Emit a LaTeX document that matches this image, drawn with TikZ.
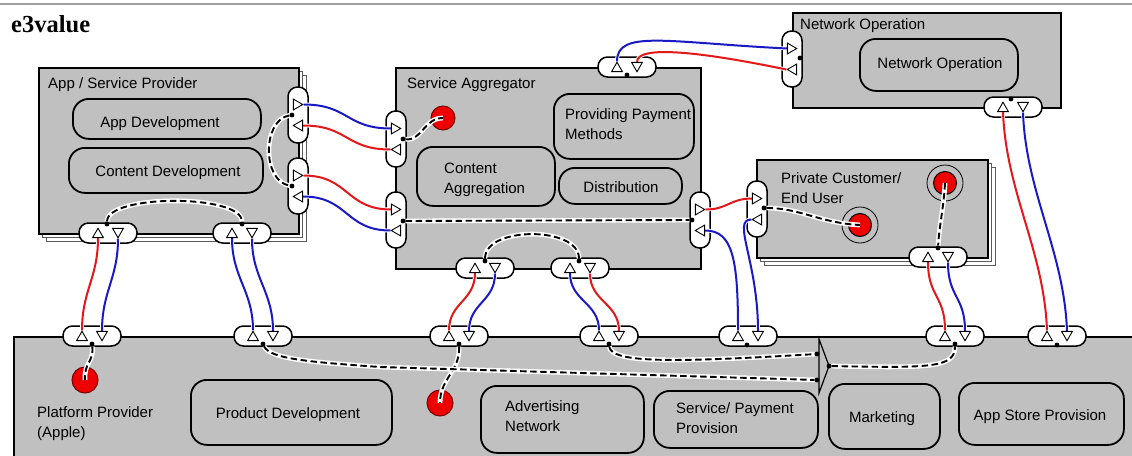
\documentclass[tikz,border=0pt]{standalone}
\usepackage{fontspec}
\setmainfont{Liberation Sans}
\newfontfamily\headfont{Liberation Serif}
\usetikzlibrary{shapes.geometric}

\definecolor{actorgrey}{RGB}{192,192,192}
\definecolor{valred}{RGB}{228,24,24}
\definecolor{valblue}{RGB}{26,26,196}
\definecolor{stimfill}{RGB}{238,0,0}
\definecolor{stimedge}{RGB}{120,0,0}

\pgfdeclarelayer{bg}
\pgfdeclarelayer{faces}
\pgfdeclarelayer{links}
\pgfsetlayers{bg,faces,links,main}

\tikzset{
  actor/.style={rectangle, draw=black, line width=1.8pt, fill=actorgrey, anchor=north west, inner sep=0pt},
  segment/.style={rectangle, draw=black!65, line width=1.1pt, fill=white, anchor=north west, inner sep=0pt},
  activity/.style={rectangle, draw=black, line width=1.8pt, fill=actorgrey, rounded corners=16pt, anchor=north west, inner sep=0pt},
  hface/.style={rectangle, draw=black, line width=1.5pt, fill=white, rounded corners=9.5pt, minimum width=58pt, minimum height=20pt, inner sep=0pt},
  vface/.style={hface, minimum width=20pt, minimum height=56pt},
  port/.style={regular polygon, regular polygon sides=3, draw=black, line width=0.9pt, fill=white, minimum size=12.5pt, inner sep=0pt},
  portup/.style={port},
  portdown/.style={port, shape border rotate=180},
  portright/.style={port, shape border rotate=-90},
  portleft/.style={port, shape border rotate=90},
  jdot/.style={circle, fill=black, minimum size=4.8pt, inner sep=0pt},
  stim/.style={circle, fill=stimfill, draw=stimedge, line width=1pt, inner sep=0pt},
  ring/.style={circle, fill=actorgrey, draw=black, line width=0.8pt, minimum size=36pt, inner sep=0pt},
  dep/.style={draw=black, line width=1.9pt, dash pattern=on 6.5pt off 3.5pt, preaction={draw=white, line width=4.8pt, solid}},
  redflow/.style={draw=valred, line width=2pt, preaction={draw=white, line width=3.8pt}},
  blueflow/.style={draw=valblue, line width=2pt, preaction={draw=white, line width=3.8pt}},
  lbl/.style={inner sep=0pt, anchor=base west},
  clbl/.style={inner sep=0pt, anchor=base},
}

% value interface with an in-port and an out-port, horizontal or vertical
\newcommand\hiface[3]{%
  \begin{pgfonlayer}{faces}\node[hface] (#1) at (#2,#3) {};\end{pgfonlayer}
  \node[portup] (#1u) at (#2-10,#3+1.5) {};
  \node[portdown] (#1d) at (#2+10,#3-1.5) {};}
\newcommand\viface[3]{%
  \begin{pgfonlayer}{faces}\node[vface] (#1) at (#2,#3) {};\end{pgfonlayer}
  \node[portright] (#1r) at (#2-1.5,#3-10.5) {};
  \node[portleft] (#1l) at (#2+1.5,#3+10.5) {};}

\begin{document}
\begin{tikzpicture}[x=1pt, y=-1pt, font=\fontsize{15}{18}\selectfont]
\useasboundingbox (0,0) rectangle (1132,455);

\begin{pgfonlayer}{bg}
  \clip (0,0) rectangle (1132,455);
  \fill[white] (0,0) rectangle (1132,455);
  \draw[black!38, line width=1.5pt] (0,4) -- (1132,4);
  % App / Service Provider (market segment)
  \node[segment, minimum width=260pt, minimum height=166pt] (aspback2) at (46,75) {};
  \node[segment, minimum width=260pt, minimum height=166pt] (aspback1) at (42,71) {};
  \node[actor, minimum width=260pt, minimum height=166pt] (asp) at (38,67) {};
  \node[activity, minimum width=188pt, minimum height=40pt] (appdev) at (72,98) {};
  \node[activity, minimum width=194pt, minimum height=45pt] (contdev) at (68,147) {};
  % Service Aggregator
  \node[actor, minimum width=305pt, minimum height=201pt] (sagg) at (395,67) {};
  \node[activity, minimum width=140pt, minimum height=65pt] (paym) at (553,93) {};
  \node[activity, minimum width=138pt, minimum height=59pt] (contagg) at (416,146) {};
  \node[activity, minimum width=123pt, minimum height=36pt] (distr) at (558,167) {};
  \node[stim, minimum size=24pt] (sastart) at (443,118) {};
  % Network Operation
  \node[actor, minimum width=268pt, minimum height=95pt] (netop) at (792,12) {};
  \node[activity, minimum width=158pt, minimum height=52pt] (netopact) at (859,38) {};
  % Private Customer / End User (market segment)
  \node[segment, minimum width=231pt, minimum height=98pt] (pcback2) at (764,167) {};
  \node[segment, minimum width=231pt, minimum height=98pt] (pcback1) at (760,163) {};
  \node[actor, minimum width=231pt, minimum height=98pt] (pc) at (756,159) {};
  \node[ring] (pcring1) at (860,225) {};
  \node[stim, draw=black, minimum size=23pt] (pcend1) at (860,225) {};
  \node[ring] (pcring2) at (945,183) {};
  \node[stim, draw=black, minimum size=23pt] (pcend2) at (945,183) {};
  % Platform Provider
  \node[actor, minimum width=1140pt, minimum height=140pt] (plat) at (13,336) {};
  \node[stim, minimum size=26pt] (ppstart) at (85,380) {};
  \node[stim, minimum size=26pt] (ppstart2) at (440,403) {};
  \node[activity, minimum width=201pt, minimum height=65pt] (proddev) at (190,379) {};
  \node[activity, minimum width=163pt, minimum height=67pt] (adnet) at (480,385) {};
  \node[activity, minimum width=164pt, minimum height=57pt] (servpay) at (653,390) {};
  \node[activity, minimum width=111pt, minimum height=65pt] (market) at (828,383) {};
  \node[activity, minimum width=165pt, minimum height=62pt] (appstore) at (958,382) {};
  % OR junction
  \draw[line width=1.2pt, fill=actorgrey] (819,339) -- (829,366) -- (819,393) -- cycle;
\end{pgfonlayer}

\node[lbl, font=\headfont\bfseries\fontsize{24.5}{27}\selectfont] (title) at (11,32.5) {e3value};

% value interfaces
\viface{aR1}{298}{115}
\viface{aR2}{298}{186}
\hiface{aB1}{108}{233}
\hiface{aB2}{242}{233}
\viface{sL1}{396}{139}
\viface{sL2}{396}{220}
\hiface{sT}{627}{67}
\viface{sR}{700}{220}
\hiface{sB1}{485}{268}
\hiface{sB2}{580}{268}
\viface{nL}{792}{59}
\hiface{nB}{1013}{107}
\viface{cL}{757}{209}
\hiface{cB}{938}{257}
\hiface{p1}{92}{336}
\hiface{p2}{263}{336}
\hiface{p3}{459}{336}
\hiface{p4}{609}{336}
\hiface{p5}{748}{336}
\hiface{p6}{955}{336}
\hiface{p7}{1057}{336}

% connection points
\node[jdot] (aR1j) at (292,115) {};
\node[jdot] (aR2j) at (292,186) {};
\node[jdot] (aB1j) at (107,224) {};
\node[jdot] (aB2j) at (242,224) {};
\node[jdot] (sL1j) at (403,139) {};
\node[jdot] (sL2j) at (403,221) {};
\node[jdot] (sTj) at (627,75) {};
\node[jdot] (sRj) at (692,220) {};
\node[jdot] (sB1j) at (485,261) {};
\node[jdot] (sB2j) at (579,261) {};
\node[jdot] (nLj) at (800,58) {};
\node[jdot] (nBj) at (1011,99) {};
\node[jdot] (cLj) at (764,208) {};
\node[jdot] (cBj) at (938,248) {};
\node[jdot] (p1j) at (92,344) {};
\node[jdot] (p2j) at (263,344) {};
\node[jdot] (p3j) at (459,344) {};
\node[jdot] (p4j) at (609,344) {};
\node[jdot] (p5j) at (747,345) {};
\node[jdot] (p6j) at (955,344) {};
\node[jdot] (p7j) at (1057,345) {};
\node[jdot] (orin1) at (817,354) {};
\node[jdot] (orin2) at (817,380) {};
\node[jdot] (ortip) at (829,366) {};

\begin{pgfonlayer}{links}
  % dependency paths
  \draw[dep] (aR1j) .. controls (262,120) and (262,181) .. (aR2j);
  \draw[dep] (aB1j) .. controls (107,194) and (242,194) .. (aB2j);
  \draw[dep] (sL1j) .. controls (422,141) and (424,118) .. (sastart.center);
  \draw[dep] (sL2j) -- (sRj);
  \draw[dep] (sB1j) .. controls (485,226) and (579,226) .. (sB2j);
  \draw[dep] (cLj) .. controls (800,208) and (820,223) .. (pcend1.center);
  \draw[dep] (pcend2.center) .. controls (944,205) and (939,228) .. (cBj);
  \draw[dep] (p1j) .. controls (94,362) and (84,362) .. (ppstart.center);
  \draw[dep] (p3j) .. controls (460,372) and (440,378) .. (ppstart2.center);
  \draw[dep] (p2j) .. controls (270,359) and (310,362) .. (380,367) -- (orin2);
  \draw[dep] (p4j) .. controls (611,364) and (680,362) .. (orin1);
  \draw[dep] (ortip) .. controls (930,368) and (955,368) .. (p6j);
  % value exchanges
  \draw[blueflow] (aR1r.east) .. controls +(45,0) and +(-45,0) .. (sL1r.west);
  \draw[redflow] (aR1l.east) .. controls +(45,0) and +(-45,0) .. (sL1l.west);
  \draw[redflow] (aR2r.east) .. controls +(45,0) and +(-45,0) .. (sL2r.west);
  \draw[blueflow] (aR2l.east) .. controls +(45,0) and +(-45,0) .. (sL2l.west);
  \draw[blueflow] (sTu.north) .. controls +(0,-32) and +(-120,-6) .. (nLr.west);
  \draw[redflow] (sTd.north) .. controls +(0,-17) and +(-87,-18) .. (nLl.west);
  \draw[redflow] (sRr.east) .. controls +(22,0) and +(-22,0) .. (cLr.west);
  \draw[blueflow] (sRl.east) .. controls +(28,0) and +(0,-70) .. (p5u.north);
  \draw[blueflow] (cLl.west) .. controls +(-20,0) and +(0,-70) .. (p5d.north);
  \draw[redflow] (cBu.south) .. controls +(0,35) and +(0,-35) .. (p6u.north);
  \draw[blueflow] (cBd.south) .. controls +(0,35) and +(0,-35) .. (p6d.north);
  \draw[redflow] (nBu.south) .. controls +(3,80) and +(-3,-80) .. (p7u.north);
  \draw[blueflow] (nBd.south) .. controls +(3,80) and +(-3,-80) .. (p7d.north);
  \draw[redflow] (aB1u.south) .. controls +(0,40) and +(0,-40) .. (p1u.north);
  \draw[blueflow] (aB1d.south) .. controls +(0,40) and +(0,-40) .. (p1d.north);
  \draw[blueflow] (aB2u.south) .. controls +(0,40) and +(0,-40) .. (p2u.north);
  \draw[blueflow] (aB2d.south) .. controls +(0,40) and +(0,-40) .. (p2d.north);
  \draw[redflow] (sB1u.south) .. controls +(0,28) and +(0,-28) .. (p3u.north);
  \draw[blueflow] (sB1d.south) .. controls +(0,28) and +(0,-28) .. (p3d.north);
  \draw[blueflow] (sB2u.south) .. controls +(0,28) and +(0,-28) .. (p4u.north);
  \draw[redflow] (sB2d.south) .. controls +(0,28) and +(0,-28) .. (p4d.north);
\end{pgfonlayer}

% labels
\node[lbl] (asplbl) at (48,88) {App / Service Provider};
\node[clbl] (appdevlbl) at (160,127) {App Development};
\node[clbl] (contdevlbl) at (168,176) {Content Development};
\node[lbl] (sagglbl) at (407,88) {Service Aggregator};
\node[lbl] (paymlbl1) at (565,119) {Providing Payment};
\node[lbl] (paymlbl2) at (565,139) {Methods};
\node[lbl] (contagglbl1) at (444,173) {Content};
\node[lbl] (contagglbl2) at (444,193) {Aggregation};
\node[clbl] (distrlbl) at (621,192) {Distribution};
\node[lbl] (netoplbl) at (800,29) {Network Operation};
\node[clbl] (netopactlbl) at (940,68) {Network Operation};
\node[lbl] (pclbl1) at (781,183) {Private Customer/};
\node[lbl] (pclbl2) at (781,203) {End User};
\node[lbl] (platlbl1) at (37,417) {Platform Provider};
\node[lbl] (platlbl2) at (37,437) {(Apple)};
\node[clbl] (proddevlbl) at (288,418) {Product Development};
\node[lbl] (adnetlbl1) at (505,411) {Advertising};
\node[lbl] (adnetlbl2) at (505,431) {Network};
\node[lbl] (servpaylbl1) at (676,413) {Service/ Payment};
\node[lbl] (servpaylbl2) at (676,433) {Provision};
\node[clbl] (marketlbl) at (882,422) {Marketing};
\node[clbl] (appstorelbl) at (1040,420) {App Store Provision};
\end{tikzpicture}
\end{document}
